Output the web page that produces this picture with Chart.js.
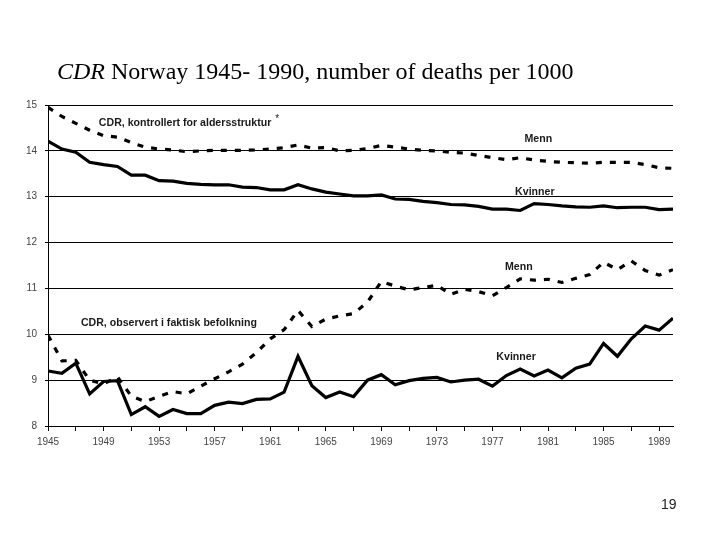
<!DOCTYPE html>
<html>
<head>
<meta charset="utf-8">
<script src="https://cdn.jsdelivr.net/npm/chart.js@4.4.0/dist/chart.umd.min.js"></script>
<style>
  html, body { margin: 0; padding: 0; background: #fff; }
  #wrap { position: relative; width: 720px; height: 540px; overflow: hidden; }
  #chart { position: absolute; left: 0; top: 0; }
  #title { position: absolute; left: 57px; top: 57px; font-family: "Liberation Serif", "Times New Roman", serif; font-size: 24px; line-height: 28px; color: #000; white-space: nowrap; }
  #page { position: absolute; left: 661px; top: 496px; font-family: "Liberation Sans", Arial, sans-serif; font-size: 14px; color: #222; }
</style>
</head>
<body>
<div id="wrap">
  <canvas id="chart" width="720" height="540"></canvas>
  <div id="title"><i>CDR</i> Norway 1945- 1990, number of deaths per 1000</div>
  <div id="page">19</div>
</div>
<script>
const years = [1945,1946,1947,1948,1949,1950,1951,1952,1953,1954,1955,1956,1957,1958,1959,1960,1961,1962,1963,1964,1965,1966,1967,1968,1969,1970,1971,1972,1973,1974,1975,1976,1977,1978,1979,1980,1981,1982,1983,1984,1985,1986,1987,1988,1989,1990];

// CDR controlled for age structure
const menControlled = [14.95,14.75,14.60,14.45,14.33,14.30,14.18,14.08,14.04,14.02,13.98,14.00,14.01,14.01,14.01,14.02,14.04,14.07,14.13,14.06,14.07,14.00,14.01,14.05,14.12,14.08,14.04,14.01,14.00,13.97,13.95,13.90,13.85,13.81,13.85,13.80,13.77,13.75,13.74,13.73,13.75,13.75,13.75,13.70,13.63,13.62];
const womenControlled = [14.21,14.04,13.97,13.75,13.70,13.66,13.47,13.47,13.35,13.34,13.29,13.27,13.26,13.26,13.21,13.20,13.15,13.15,13.26,13.17,13.10,13.06,13.02,13.02,13.04,12.95,12.94,12.90,12.87,12.83,12.82,12.79,12.73,12.73,12.70,12.85,12.83,12.80,12.78,12.77,12.80,12.76,12.77,12.77,12.72,12.73];

// CDR observed in actual population
const menObserved = [9.98,9.42,9.43,9.00,8.92,9.07,8.65,8.53,8.65,8.75,8.70,8.87,9.03,9.18,9.35,9.60,9.90,10.10,10.52,10.17,10.33,10.40,10.45,10.70,11.15,11.05,10.97,11.02,11.07,10.87,10.98,10.93,10.84,11.02,11.21,11.18,11.20,11.13,11.22,11.30,11.57,11.41,11.60,11.39,11.29,11.41];
const womenObserved = [9.20,9.15,9.37,8.70,8.97,8.99,8.25,8.42,8.21,8.36,8.27,8.27,8.45,8.52,8.49,8.58,8.59,8.74,9.52,8.88,8.62,8.74,8.64,9.00,9.12,8.90,8.99,9.04,9.06,8.96,9.00,9.02,8.87,9.10,9.24,9.09,9.22,9.05,9.26,9.35,9.80,9.52,9.90,10.18,10.09,10.35];

const xLabelYears = [1945,1949,1953,1957,1961,1965,1969,1973,1977,1981,1985,1989];
const yTicks = [8,9,10,11,12,13,14,15];

// in-chart annotations: [text, year, value, align]
const annotations = [
  ["CDR, kontrollert for aldersstruktur", 1948.66, 14.61, "left"],
  ["Menn", 1980.3, 14.26, "center"],
  ["Kvinner", 1980.05, 13.10, "center"],
  ["Menn", 1978.9, 11.47, "center"],
  ["Kvinner", 1978.7, 9.50, "center"],
  ["CDR, observert i faktisk befolkning", 1947.37, 10.24, "left"]
];

function pts(vals) { return years.map((y, i) => ({ x: y, y: vals[i] })); }

const dashed = { borderColor: "#000", borderWidth: 3.2, borderDash: [6, 8], pointRadius: 0, tension: 0, fill: false, borderCapStyle: "butt" };
const solid = { borderColor: "#000", borderWidth: 3.2, pointRadius: 0, tension: 0, fill: false, borderJoinStyle: "miter" };

const annFont = "bold 10.6px 'Liberation Sans', Arial, sans-serif";
const annotationPlugin = {
  id: "annot",
  afterDatasetsDraw(chart) {
    const { ctx, scales: { x, y } } = chart;
    ctx.save();
    ctx.fillStyle = "#1a1a1a";
    ctx.font = annFont;
    ctx.textBaseline = "middle";
    annotations.forEach(([t, xv, yv, al]) => {
      ctx.textAlign = al;
      const px = x.getPixelForValue(xv), py = y.getPixelForValue(yv);
      ctx.fillText(t, px, py);
      if (t.indexOf("kontrollert") >= 0) {
        const w = ctx.measureText(t).width;
        ctx.font = "10px 'Liberation Sans', Arial, sans-serif";
        ctx.textAlign = "left";
        ctx.fillText("*", px + w + 4, py - 4);
        ctx.font = annFont;
      }
    });
    ctx.restore();
  }
};

new Chart(document.getElementById("chart"), {
  type: "line",
  data: {
    datasets: [
      Object.assign({ label: "Menn (kontrollert)", data: pts(menControlled) }, dashed),
      Object.assign({ label: "Kvinner (kontrollert)", data: pts(womenControlled) }, solid),
      Object.assign({ label: "Menn (observert)", data: pts(menObserved) }, dashed),
      Object.assign({ label: "Kvinner (observert)", data: pts(womenObserved) }, solid)
    ]
  },
  options: {
    responsive: false,
    animation: false,
    devicePixelRatio: 1,
    layout: { padding: { left: 0, top: 105, right: 47, bottom: 90 } },
    plugins: { legend: { display: false }, tooltip: { enabled: false }, title: { display: false } },
    scales: {
      x: {
        type: "linear",
        min: 1945, max: 1990,
        afterFit: (s) => { s.height = 24; },
        afterBuildTicks: (s) => { const t = []; for (let v = 1945; v <= 1990; v += 2) t.push({ value: v }); s.ticks = t; },
        ticks: {
          autoSkip: false, maxRotation: 0, padding: 5,
          color: "#444",
          font: { family: "'Liberation Sans', Arial, sans-serif", size: 10 },
          callback: (v) => xLabelYears.includes(v) ? String(v) : ""
        },
        grid: { drawOnChartArea: false, drawTicks: true, tickLength: 5, color: "#000", lineWidth: 1 },
        border: { display: true, color: "#000", width: 1 }
      },
      y: {
        type: "linear",
        min: 8, max: 15,
        afterFit: (s) => { s.width = 48; },
        afterBuildTicks: (s) => { s.ticks = yTicks.map(v => ({ value: v })); },
        ticks: {
          padding: 8,
          color: "#444",
          font: { family: "'Liberation Sans', Arial, sans-serif", size: 10 }
        },
        grid: { color: "#000", lineWidth: 1, tickLength: 3 },
        border: { display: true, color: "#000", width: 1 }
      }
    }
  },
  plugins: [annotationPlugin]
});
</script>
</body>
</html>
